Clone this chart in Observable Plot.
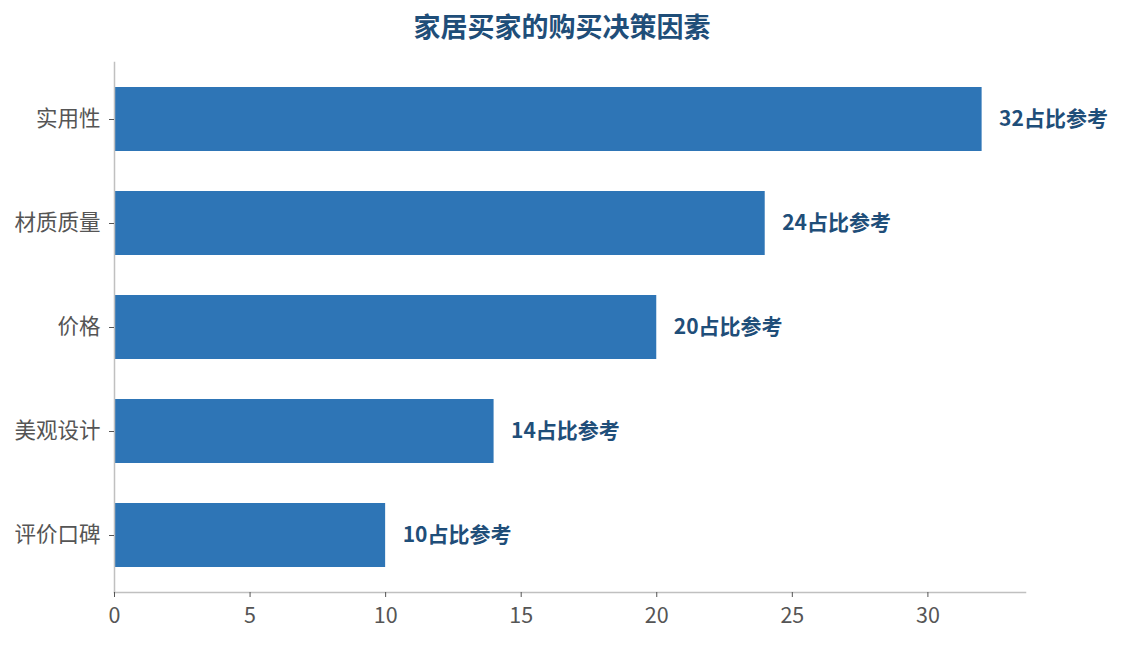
<!DOCTYPE html>
<html>
<head>
<meta charset="utf-8">
<script src="https://cdn.jsdelivr.net/npm/d3@7"></script>
<script src="https://cdn.jsdelivr.net/npm/@observablehq/plot@0.6"></script>
<style>
  body { margin: 0; background: #fff; font-family: "Noto Sans CJK SC", "Noto Sans", sans-serif; }
  #title { height: 56px; line-height: 52px; text-align: center; font-size: 27px; font-weight: bold; color: #1f4e79; }
</style>
</head>
<body>
<div id="title">家居买家的购买决策因素</div>
<div id="chart"></div>
<script>
const categories = ["实用性", "材质质量", "价格", "美观设计", "评价口碑"];
const values = [32, 24, 20, 14, 10];
const labelSuffix = "占比参考";
const xTicks = [0, 5, 10, 15, 20, 25, 30];

const data = categories.map((c, i) => ({category: c, value: values[i]}));
const font = "Noto Sans CJK SC";

const chart = Plot.plot({
  width: 1124,
  height: 589,
  marginTop: 6,
  marginBottom: 53,
  marginLeft: 114,
  marginRight: 99,
  style: {fontFamily: font, background: "#fff", fontSize: "21.5px"},
  x: {domain: [0, 33.6], label: null},
  y: {domain: categories, paddingInner: 0.388, paddingOuter: 0.23, label: null},
  marks: [
    Plot.barX(data, {x: "value", y: "category", fill: "#2e75b6"}),
    Plot.frame({anchor: "left", stroke: "#c0c0c0", strokeWidth: 1.5}),
    Plot.frame({anchor: "bottom", stroke: "#c0c0c0", strokeWidth: 1.5}),
    Plot.axisX({ticks: xTicks, tickSize: 5, tickPadding: 10, stroke: "#555", color: "#555", label: null}),
    Plot.axisY({tickSize: 5, tickPadding: 9, stroke: "#555", color: "#555", label: null}),
    Plot.text(data, {x: "value", y: "category", text: d => d.value + labelSuffix, dx: 17, textAnchor: "start",
      fill: "#1f4e79", fontWeight: "bold", fontSize: 21})
  ]
});
document.getElementById("chart").appendChild(chart);
</script>
</body>
</html>
